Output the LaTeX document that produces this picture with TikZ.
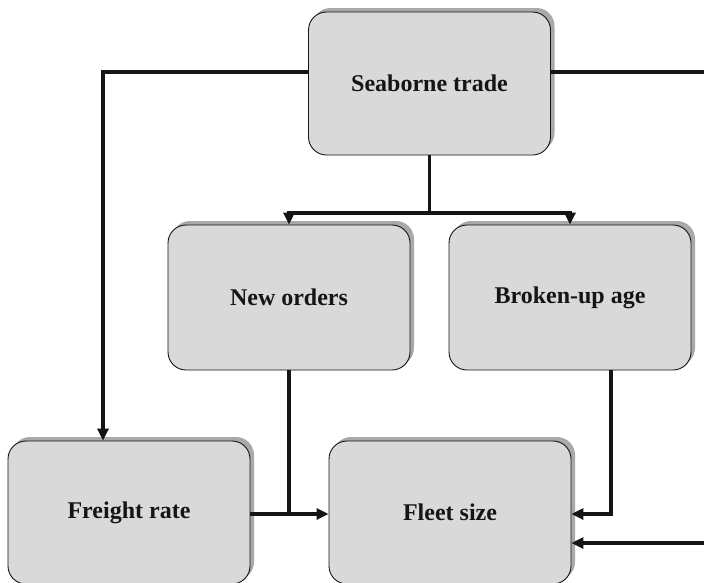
\documentclass[tikz,border=0pt]{standalone}
\usepackage{fontspec}
\setmainfont{Liberation Serif}
\usetikzlibrary{arrows.meta,shadows}
\definecolor{boxgray}{HTML}{D9D9D9}
\definecolor{shadowgray}{HTML}{A9A9A9}
\definecolor{ink}{HTML}{151515}
\begin{document}
\begin{tikzpicture}[x=1pt,y=-1pt,
  box/.style={draw=ink, line width=0.9pt, fill=boxgray, rounded corners=18pt,
    minimum width=242pt, minimum height=145pt, inner sep=0pt, text=ink,
    font=\bfseries\fontsize{24}{28}\selectfont,
    general shadow={fill=shadowgray, shadow xshift=4pt, shadow yshift=4pt}},
  conn/.style={draw=ink, line width=3.4pt},
  arr/.style={conn, -{Triangle[length=12pt,width=11pt]}}]
  \useasboundingbox (0,0) rectangle (704,582);
  \clip (0,0) rectangle (704,582);

  % boxes
  \node[box, minimum height=143pt] (trade) at (429.5,83.5) {Seaborne trade};
  \node[box] (orders) at (289,297.5) {New orders};
  \node[box] (broken) at (570,297.5) {Broken-up age};
  \node[box, minimum height=143pt] (freight) at (129,512.5) {Freight rate};
  \node[box, minimum height=143pt] (fleet) at (450,512.5) {Fleet size};

  % routing points
  \coordinate (lk) at (103,72);
  \coordinate (rk) at (712,72);
  \coordinate (rb) at (712,543);
  \coordinate (split) at (429.5,213);
  \coordinate (join) at (289,514);
  \coordinate (bk) at (611,514);

  % seaborne trade -> freight rate
  \draw[arr] (trade.west |- lk) -| (lk |- freight.north);
  % seaborne trade -> fleet size (round the right side)
  \draw[arr] (trade.east |- rk) -- (rk) -- (rb) -- (fleet.east |- rb);
  % seaborne trade -> new orders / broken-up age
  \draw[conn] (trade.south) -- (split);
  \draw[arr] (split) -| (orders.north);
  \draw[arr] (split) -| (broken.north);
  % new orders and freight rate -> fleet size
  \draw[conn] (orders.south) -- (join);
  \draw[arr] (freight.east |- join) -- (fleet.west |- join);
  % broken-up age -> fleet size
  \draw[arr] (broken.south -| bk) -- (bk) -- (fleet.east |- bk);
\end{tikzpicture}
\end{document}
